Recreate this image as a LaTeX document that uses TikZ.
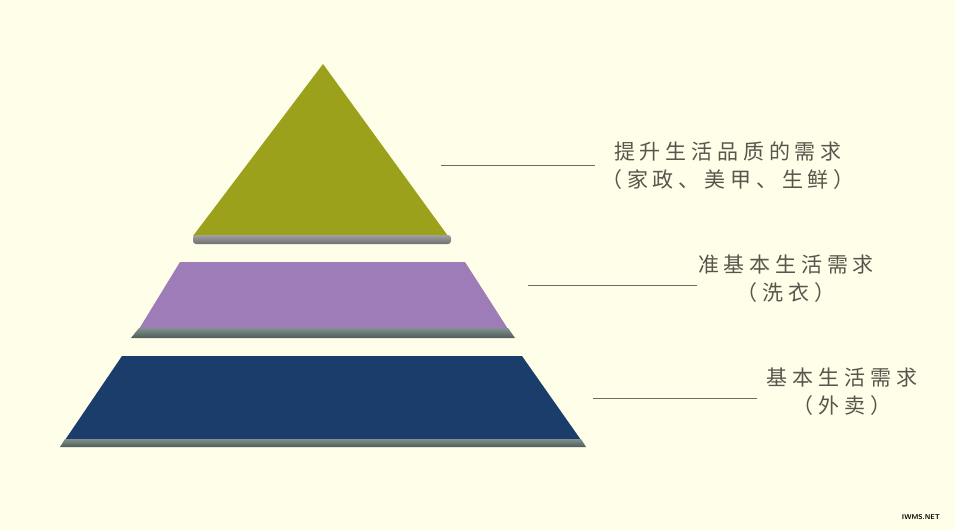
\documentclass[tikz,border=0pt]{standalone}
\usepackage{fontspec}
\newfontfamily\cjk[LetterSpace=23]{Noto Sans CJK SC}
\usetikzlibrary{positioning}
\definecolor{bgcream}{RGB}{255,255,233}
\definecolor{olive}{RGB}{156,161,27}
\definecolor{lilac}{RGB}{158,124,184}
\definecolor{navy}{RGB}{27,61,107}
\definecolor{bandhi}{RGB}{160,160,160}
\definecolor{bandlo}{RGB}{112,112,112}
\definecolor{slatehi}{RGB}{130,145,140}
\definecolor{slatelo}{RGB}{78,92,90}
\definecolor{txtgray}{RGB}{88,86,76}
\definecolor{linegray}{RGB}{110,108,98}

\begin{document}
\begin{tikzpicture}[x=1pt,y=-1pt,
    label/.style={font=\cjk\fontsize{21}{28}\selectfont, text=txtgray, align=center, inner sep=0pt},
    leader/.style={draw=linegray, line width=0.8pt}]
    \fill[bgcream] (0,0) rectangle (955,530);
    % top: triangle
    \fill[olive] (323,64) -- (448,236) -- (193,236) -- cycle;
    \shade[rounded corners=3pt, top color=bandhi, bottom color=bandlo] (193,235) rectangle (451,244);
    % middle
    \fill[lilac] (180,262) -- (465,262) -- (508,329) -- (139,329) -- cycle;
    \shade[top color=slatehi, bottom color=slatelo] (139,328) -- (508,328) -- (515,338) -- (131,338) -- cycle;
    % bottom
    \fill[navy] (122,356) -- (522,356) -- (581,440) -- (65,440) -- cycle;
    \shade[top color=slatehi, bottom color=slatelo] (65,439) -- (581,439) -- (586,447) -- (60,447) -- cycle;
    % labels
    \node[label] (t1) at (728,166) {提升生活品质的需求\\（家政、美甲、生鲜）};
    \node[label] (t2) at (786,279) {准基本生活需求\\（洗衣）};
    \node[label] (t3) at (842,392) {基本生活需求\\（外卖）};
    \coordinate (a1) at (441,165);
    \coordinate (b1) at (595,165);
    \coordinate (a2) at (528,285);
    \coordinate (b2) at (697,285);
    \coordinate (a3) at (593,398);
    \coordinate (b3) at (757,398);
    \draw[leader] (a1) -- (b1);
    \draw[leader] (a2) -- (b2);
    \draw[leader] (a3) -- (b3);
    \node[font=\sffamily\bfseries\fontsize{7}{8}\selectfont, inner sep=0pt] (wm) at (921,517) {IWMS.NET};
\end{tikzpicture}
\end{document}
